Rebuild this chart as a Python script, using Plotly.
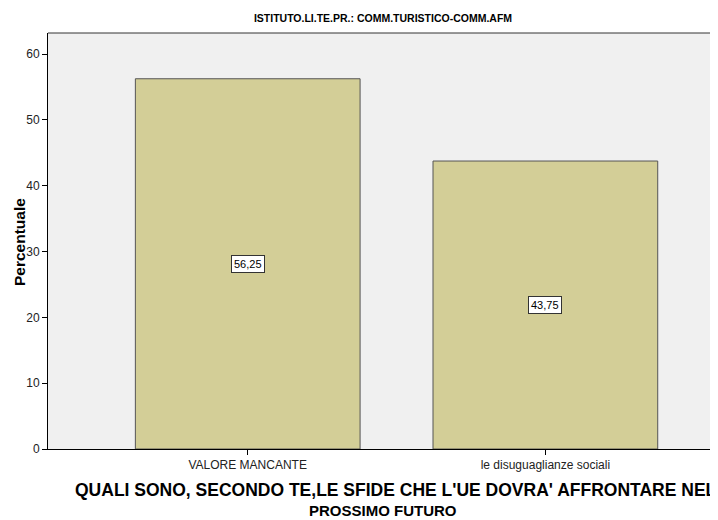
import plotly.graph_objects as go

categories = ["VALORE MANCANTE", "le disuguaglianze sociali"]
values = [56.25, 43.75]
value_labels = ["56,25", "43,75"]
y_ticks = [0, 10, 20, 30, 40, 50, 60]

title_text = "ISTITUTO.LI.TE.PR.: COMM.TURISTICO-COMM.AFM"
x_title_line1 = "QUALI SONO, SECONDO TE,LE SFIDE CHE L'UE DOVRA' AFFRONTARE NEL"
x_title_line2 = "PROSSIMO FUTURO"
y_title = "Percentuale"

font_main = "Liberation Sans, Arial, sans-serif"

W, H = 710, 512
L, R, T, B = 40, 0, 25, 71
PH = H - T - B
PW = W - L - R

fig = go.Figure()
fig.add_trace(go.Bar(
    x=[0, 1],
    y=values,
    width=0.755,
    marker=dict(color="#d3ce97", line=dict(color="#555555", width=1)),
    hoverinfo="skip",
))

for i, (v, lab) in enumerate(zip(values, value_labels)):
    fig.add_annotation(
        x=i, y=v / 2, text=lab, showarrow=False,
        font=dict(family=font_main, size=11, color="black"),
        bgcolor="white", bordercolor="#333333", borderwidth=1, borderpad=2,
    )

# x-axis title (two lines, as in the reference)
fig.add_annotation(
    xref="paper", yref="paper", x=(65 - L) / PW, y=(T + PH - 482) / PH,
    xanchor="left", yanchor="middle", showarrow=False,
    text="<b>" + x_title_line1 + "</b>",
    font=dict(family=font_main, size=17.5, color="black"),
)
fig.add_annotation(
    xref="paper", yref="paper", x=0.5, y=(T + PH - 502) / PH,
    xanchor="center", yanchor="middle", showarrow=False,
    text="<b>" + x_title_line2 + "</b>",
    font=dict(family=font_main, size=15, color="black"),
)

# y-axis title
fig.add_annotation(
    xref="paper", yref="paper", x=(11 - L) / PW, y=(T + PH - 234) / PH,
    xanchor="center", yanchor="middle", showarrow=False, textangle=-90,
    text="<b>" + y_title + "</b>",
    font=dict(family=font_main, size=15.5, color="black"),
)

fig.add_shape(type="line", xref="paper", yref="paper", x0=0, x1=1, y0=1, y1=1,
              line=dict(color="#333333", width=1))

fig.update_layout(
    width=W, height=H,
    margin=dict(l=L, r=R, t=T, b=B),
    paper_bgcolor="white",
    plot_bgcolor="#f0f0f0",
    showlegend=False,
    title=dict(text="<b>" + title_text + "</b>", x=(L + W) / 2 / W, xanchor="center",
               y=1 - 10 / H, yanchor="middle",
               font=dict(family=font_main, size=10.5, color="black")),
    xaxis=dict(
        range=[-0.671, 1.58],
        tickvals=[0, 1], ticktext=categories,
        ticks="outside", ticklen=5, tickcolor="black",
        showline=True, linecolor="black", linewidth=1,
        showgrid=False, zeroline=False,
        tickfont=dict(family=font_main, size=12, color="#222222"),
    ),
    yaxis=dict(
        range=[0, 63.2],
        tickvals=y_ticks,
        ticks="outside", ticklen=5, tickcolor="black",
        showline=True, linecolor="black", linewidth=1,
        showgrid=False, zeroline=False,
        tickfont=dict(family=font_main, size=12, color="#222222"),
    ),
)

fig.write_html("out.html")
